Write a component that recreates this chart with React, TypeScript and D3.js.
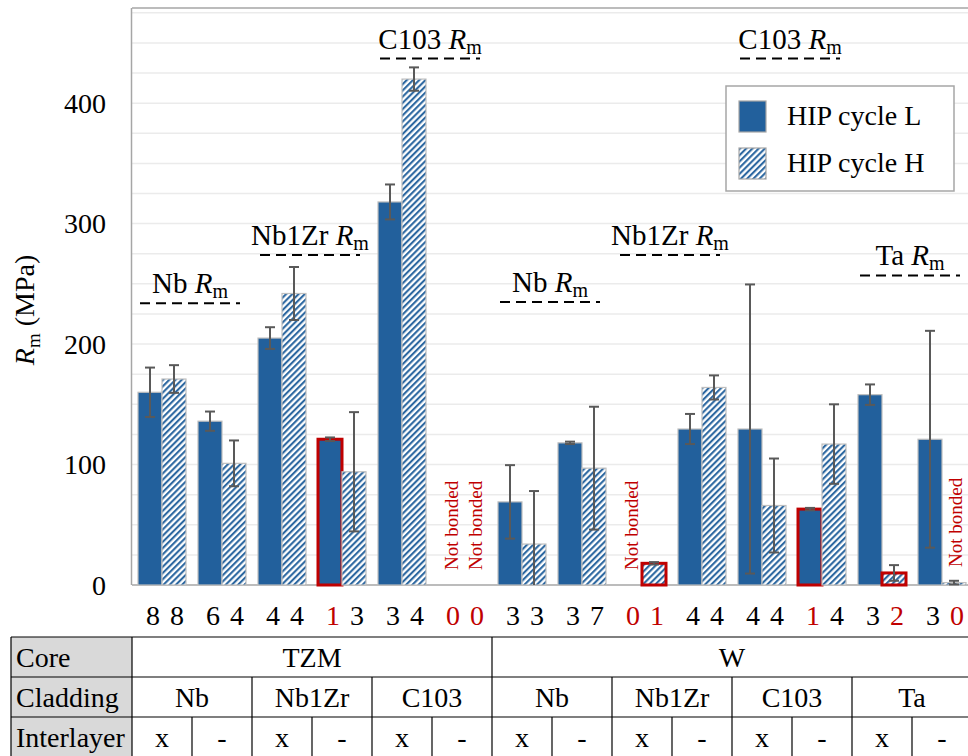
import { useEffect } from "react";
import * as d3 from "d3";

// one entry per column in the table below the chart
const cores = ["TZM", "TZM", "TZM", "TZM", "TZM", "TZM", "W", "W", "W", "W", "W", "W", "W", "W"];
const claddings = ["Nb", "Nb", "Nb1Zr", "Nb1Zr", "C103", "C103", "Nb", "Nb", "Nb1Zr", "Nb1Zr", "C103", "C103", "Ta", "Ta"];
const interlayers = ["x", "-", "x", "-", "x", "-", "x", "-", "x", "-", "x", "-", "x", "-"];

// HIP cycle L / H mean Rm (MPa), std dev and number of specimens
const rmL = [160, 136, 205, 121, 318, 0, 69, 118, 0, 129.5, 129.5, 63, 158, 121];
const errL = [20.5, 8, 9, 1.5, 14.5, 0, 30.5, 1, 0, 12.5, 120, 1, 8.5, 90];
const countL = [8, 6, 4, 1, 3, 0, 3, 3, 0, 4, 4, 1, 3, 3];
const rmH = [171, 101, 242, 94, 420, 0, 34, 97, 18, 164, 66, 117, 10, 2];
const errH = [11.5, 19, 22, 49.5, 9.7, 0, 44, 51, 1, 10, 39, 33, 6.5, 1.5];
const countH = [8, 4, 4, 3, 4, 0, 3, 7, 1, 4, 4, 4, 2, 0];

// reference strength of the cladding material
const refLabels = ["Nb", "Nb1Zr", "C103", "Nb", "Nb1Zr", "C103", "Ta"];
const refValues = [234, 274, 437, 235, 274, 437, 257];
const refStart = [0, 2, 4, 6, 8, 10, 12];

const yTicks = [0, 100, 200, 300, 400];
const seriesNames = ["HIP cycle L", "HIP cycle H"];

const width = 968;
const height = 756;
const marginLeft = 132;
const marginTop = 8;
const plotBottom = 585;

const BLUE = "#22609c";
const RED = "#c00000";
const FONT = '"Liberation Serif", "DejaVu Serif", "Times New Roman", Times, serif';

const App = () => {
  useEffect(() => {
    document.body.style.margin = "0";
  }, []);

  const idx = d3.range(cores.length);
  const x = d3
    .scaleBand<number>()
    .domain(idx)
    .range([marginLeft, marginLeft + 60 * idx.length]);
  const inner = d3
    .scaleBand<string>()
    .domain(["L", "H"])
    .range([0, x.bandwidth()])
    .paddingOuter(0.25);
  const y = d3.scaleLinear().domain([0, 479]).range([plotBottom, marginTop]);

  const bars = idx.flatMap((i) => [
    { i, s: "L", v: rmL[i], e: errL[i], n: countL[i] },
    { i, s: "H", v: rmH[i], e: errH[i], n: countH[i] },
  ]);

  const grid = d3.range(25, 479, 25);
  const bw = inner.bandwidth();
  const tableTop = 637;
  const rowH = 40;

  // merged cells for a row
  const spans = (vals: string[], pairOnly: boolean) => {
    const out: { label: string; a: number; b: number }[] = [];
    vals.forEach((v, i) => {
      const last = out[out.length - 1];
      if (last && last.label === v && (!pairOnly || i % 2 === 1)) last.b = i;
      else out.push({ label: v, a: i, b: i });
    });
    return out;
  };

  const rows = [
    { name: "Core", cells: spans(cores, false) },
    { name: "Cladding", cells: spans(claddings, true) },
    { name: "Interlayer", cells: interlayers.map((v, i) => ({ label: v, a: i, b: i })) },
  ];

  return (
    <svg
      width={width}
      height={height}
      viewBox={`0 0 ${width} ${height}`}
      style={{ display: "block", fontFamily: FONT }}
    >
      <defs>
        <pattern id="hatch" patternUnits="userSpaceOnUse" width={4.4} height={4.4} patternTransform="rotate(45)">
          <rect width={4.4} height={4.4} fill="white" />
          <line x1={1.1} y1={0} x2={1.1} y2={4.4} stroke={BLUE} strokeWidth={2} />
        </pattern>
      </defs>
      <rect width={width} height={height} fill="white" />

      {/* gridlines */}
      <g stroke="#ebebeb" strokeWidth={1.5}>
        {grid.map((g) => (
          <line key={g} x1={marginLeft} x2={width} y1={y(g)} y2={y(g)} />
        ))}
      </g>
      <g stroke="#a6a6a6" strokeWidth={1.5}>
        <line x1={marginLeft} x2={width} y1={marginTop} y2={marginTop} />
        <line x1={marginLeft - 0.5} x2={marginLeft - 0.5} y1={marginTop} y2={plotBottom} />
        <line x1={marginLeft} x2={width} y1={plotBottom} y2={plotBottom} />
      </g>

      {/* y axis */}
      <g fontSize={28} textAnchor="end">
        {yTicks.map((t) => (
          <text key={t} x={106} y={y(t) + 9.5}>
            {t}
          </text>
        ))}
      </g>
      <text transform="translate(34,310) rotate(-90)" textAnchor="middle" fontSize={28}>
        <tspan fontStyle="italic">R</tspan>
        <tspan fontSize={19} dy={6}>m</tspan>
        <tspan dy={-6}> (MPa)</tspan>
      </text>

      {/* bars */}
      <g>
        {bars.map((d) => {
          const bx = (x(d.i) as number) + (inner(d.s) as number);
          if (d.n === 0 && d.v === 0) return null;
          const outlined = d.n > 0 && d.n < 3;
          return (
            <rect
              key={`${d.i}${d.s}`}
              x={bx}
              y={y(d.v)}
              width={bw}
              height={y(0) - y(d.v)}
              fill={d.s === "L" ? BLUE : "url(#hatch)"}
              stroke={outlined ? RED : "#bfbfbf"}
              strokeWidth={outlined ? 3 : 1.2}
            />
          );
        })}
      </g>

      {/* error bars */}
      <g stroke="#595959" strokeWidth={2}>
        {bars
          .filter((d) => d.e > 0)
          .map((d) => {
            const cx = (x(d.i) as number) + (inner(d.s) as number) + bw / 2;
            const top = y(d.v + d.e);
            const bot = y(Math.max(0, d.v - d.e));
            return (
              <g key={`e${d.i}${d.s}`}>
                <line x1={cx} x2={cx} y1={top} y2={bot} />
                <line x1={cx - 5} x2={cx + 5} y1={top} y2={top} />
                {d.v - d.e > 0 && <line x1={cx - 5} x2={cx + 5} y1={bot} y2={bot} />}
              </g>
            );
          })}
      </g>

      {/* not bonded */}
      <g fill={RED} fontSize={19}>
        {bars
          .filter((d) => d.n === 0)
          .map((d) => {
            const cx = (x(d.i) as number) + (inner(d.s) as number) + bw / 2 + 8;
            return (
              <text key={`nb${d.i}${d.s}`} transform={`translate(${cx},${d.v > 0 ? 567 : 570}) rotate(-90)`}>
                Not bonded
              </text>
            );
          })}
      </g>

      {/* specimen counts */}
      <g fontSize={28} textAnchor="middle">
        {bars.map((d) => (
          <text
            key={`n${d.i}${d.s}`}
            x={(x(d.i) as number) + (inner(d.s) as number) + bw / 2 + 3}
            y={625}
            fill={d.n < 3 ? RED : "black"}
          >
            {d.n}
          </text>
        ))}
      </g>

      {/* cladding reference strength */}
      <g>
        {refLabels.map((lab, k) => {
          const x0 = (x(refStart[k]) as number) + 8;
          const x1 = x0 + 100;
          const ly = y(refValues[k]);
          return (
            <g key={`r${k}`}>
              <line x1={x0} x2={x1} y1={ly} y2={ly} stroke="black" strokeWidth={2} strokeDasharray="10 6" />
              <text x={(x0 + x1) / 2} y={ly - 10} textAnchor="middle" fontSize={29}>
                {lab} <tspan fontStyle="italic">R</tspan>
                <tspan fontSize={20} dy={5}>m</tspan>
              </text>
            </g>
          );
        })}
      </g>

      {/* legend */}
      <g>
        <rect x={726} y={86} width={228} height={105} fill="white" stroke="#a6a6a6" strokeWidth={1.5} />
        {seriesNames.map((s, k) => (
          <g key={s} transform={`translate(739,${101 + k * 47})`}>
            <rect width={27} height={31} fill={k === 0 ? BLUE : "url(#hatch)"} stroke="#a6a6a6" strokeWidth={1.2} />
            <text x={48} y={24} fontSize={28}>
              {s}
            </text>
          </g>
        ))}
      </g>

      {/* table */}
      <g>
        <rect x={11} y={tableTop} width={marginLeft - 11} height={height - tableTop} fill="#d9d9d9" />
        <g stroke="black" strokeWidth={1.2}>
          {[0, 1, 2].map((r) => (
            <line key={`h${r}`} x1={11} x2={width} y1={tableTop + r * rowH} y2={tableTop + r * rowH} />
          ))}
          <line x1={11} x2={11} y1={tableTop} y2={height} />
          <line x1={marginLeft} x2={marginLeft} y1={tableTop} y2={height} />
          {rows.map((row, r) =>
            row.cells.map((c) => {
              const xe = (x(c.b) as number) + x.bandwidth();
              return (
                <line
                  key={`v${r}${c.a}`}
                  x1={xe}
                  x2={xe}
                  y1={tableTop + r * rowH}
                  y2={r === 2 ? height : tableTop + (r + 1) * rowH}
                />
              );
            })
          )}
        </g>
        <g fontSize={28}>
          {rows.map((row, r) => (
            <g key={row.name}>
              <text x={16} y={tableTop + r * rowH + 30}>
                {row.name}
              </text>
              {row.cells.map((c) => (
                <text
                  key={c.a}
                  x={((x(c.a) as number) + (x(c.b) as number) + x.bandwidth()) / 2}
                  y={tableTop + r * rowH + 30}
                  textAnchor="middle"
                >
                  {c.label}
                </text>
              ))}
            </g>
          ))}
        </g>
      </g>
    </svg>
  );
};

export default App;
